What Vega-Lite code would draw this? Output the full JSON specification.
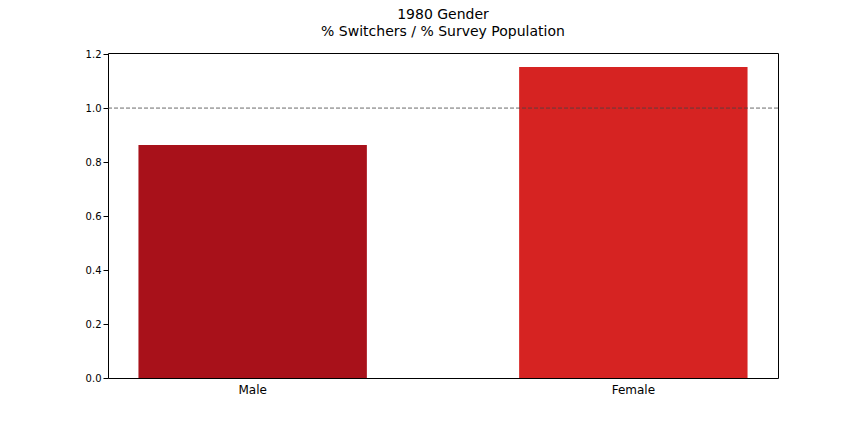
{
  "$schema": "https://vega.github.io/schema/vega-lite/v6.json",
  "width": 670,
  "height": 325,
  "autosize": {"type": "none"},
  "padding": {"left": 108, "top": 53, "right": 86, "bottom": 54},
  "background": "white",
  "title": {
    "text": ["1980 Gender", "% Switchers / % Survey Population"],
    "fontSize": 14,
    "fontWeight": "normal",
    "font": "DejaVu Sans",
    "color": "black",
    "offset": 10,
    "lineHeight": 17
  },
  "config": {
    "view": {"stroke": "black", "strokeWidth": 1},
    "axis": {"grid": false, "domain": false, "labelFont": "DejaVu Sans", "labelColor": "black", "tickColor": "black", "title": null}
  },
  "data": {
    "values": [
      {"gender": "Male", "ratio": 0.863},
      {"gender": "Female", "ratio": 1.152}
    ]
  },
  "layer": [
    {
      "mark": {"type": "bar"},
      "encoding": {
        "x": {
          "field": "gender", "type": "nominal", "sort": ["Male", "Female"],
          "scale": {"paddingInner": 0.4, "paddingOuter": 0.08},
          "axis": {"labelAngle": 0, "labelFontSize": 12, "ticks": false, "labelPadding": 6}
        },
        "y": {
          "field": "ratio", "type": "quantitative",
          "scale": {"domain": [0, 1.204], "nice": false},
          "axis": {"values": [0, 0.2, 0.4, 0.6, 0.8, 1.0, 1.2], "format": ".1f", "labelFontSize": 10}
        },
        "color": {
          "field": "gender", "type": "nominal",
          "scale": {"domain": ["Male", "Female"], "range": ["#a8111a", "#d62322"]},
          "legend": null
        }
      }
    },
    {
      "data": {"values": [{"y": 1.0}]},
      "mark": {"type": "rule", "strokeDash": [4, 2], "color": "#444444", "strokeWidth": 0.8},
      "encoding": {"y": {"field": "y", "type": "quantitative"}}
    }
  ]
}
